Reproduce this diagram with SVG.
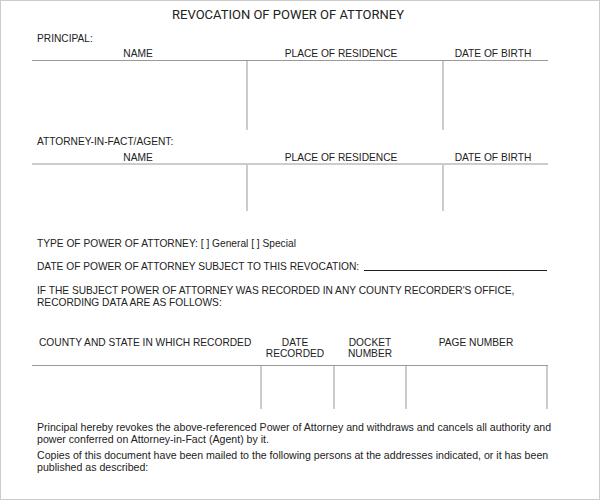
<svg xmlns="http://www.w3.org/2000/svg" width="600" height="500" viewBox="0 0 600 500">
<style>
text{font-family:"Liberation Sans",Arial,sans-serif;font-size:10.2px;fill:#222}
.c{text-anchor:middle}
.t{font-family:Roboto,"Liberation Sans",sans-serif;font-size:13px}
.p{font-size:10.6px}
line{stroke:#999;stroke-width:1.2}
.v{stroke:#bbb;stroke-width:1.5}
</style>
<rect x="0.5" y="0.5" width="599" height="499" fill="#fff" stroke="#ccc"/>
<text class="t c" x="288" y="19">REVOCATION OF POWER OF ATTORNEY</text>
<text x="37" y="42">PRINCIPAL:</text>
<text class="c" x="138" y="57">NAME</text>
<text class="c" x="341" y="57">PLACE OF RESIDENCE</text>
<text class="c" x="493" y="57">DATE OF BIRTH</text>
<line x1="32" y1="60.5" x2="548" y2="60.5"/>
<line class="v" x1="247" y1="61" x2="247" y2="130"/>
<line class="v" x1="443" y1="61" x2="443" y2="130"/>
<text x="37" y="145">ATTORNEY-IN-FACT/AGENT:</text>
<text class="c" x="138" y="161">NAME</text>
<text class="c" x="341" y="161">PLACE OF RESIDENCE</text>
<text class="c" x="493" y="161">DATE OF BIRTH</text>
<line x1="32" y1="164" x2="548" y2="164"/>
<line class="v" x1="247" y1="165" x2="247" y2="211"/>
<line class="v" x1="443" y1="165" x2="443" y2="211"/>
<text x="37" y="247">TYPE OF POWER OF ATTORNEY: [ ] General [ ] Special</text>
<text x="37" y="270">DATE OF POWER OF ATTORNEY SUBJECT TO THIS REVOCATION:</text>
<line x1="364" y1="270.5" x2="547" y2="270.5" style="stroke:#222;stroke-width:1"/>
<text x="37" y="294">IF THE SUBJECT POWER OF ATTORNEY WAS RECORDED IN ANY COUNTY RECORDER'S OFFICE,</text>
<text x="37" y="306">RECORDING DATA ARE AS FOLLOWS:</text>
<text x="39" y="346">COUNTY AND STATE IN WHICH RECORDED</text>
<text class="c" x="295" y="346">DATE</text>
<text class="c" x="295" y="357">RECORDED</text>
<text class="c" x="370" y="346">DOCKET</text>
<text class="c" x="370" y="357">NUMBER</text>
<text class="c" x="476" y="346">PAGE NUMBER</text>
<line x1="32" y1="365.5" x2="548" y2="365.5"/>
<line class="v" x1="261" y1="366" x2="261" y2="409"/>
<line class="v" x1="334" y1="366" x2="334" y2="409"/>
<line class="v" x1="406" y1="366" x2="406" y2="409"/>
<line class="v" x1="547" y1="366" x2="547" y2="409"/>
<text class="p" x="37" y="431">Principal hereby revokes the above-referenced Power of Attorney and withdraws and cancels all authority and</text>
<text class="p" x="37" y="443">power conferred on Attorney-in-Fact (Agent) by it.</text>
<text class="p" x="37" y="459">Copies of this document have been mailed to the following persons at the addresses indicated, or it has been</text>
<text class="p" x="37" y="471">published as described:</text>
</svg>
